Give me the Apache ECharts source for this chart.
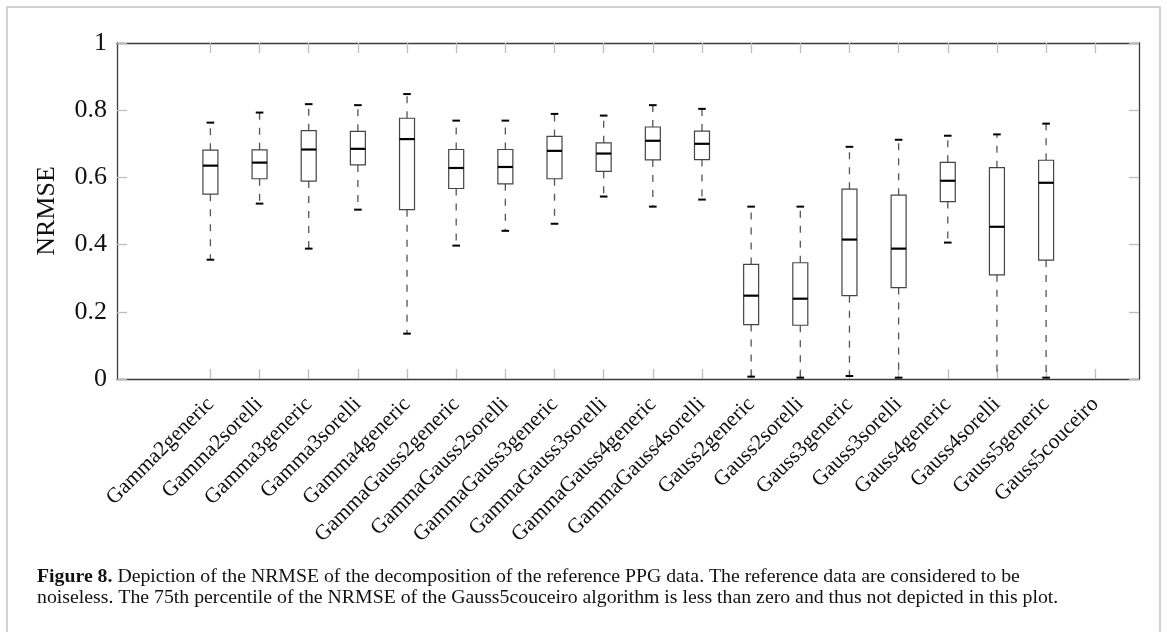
<!DOCTYPE html>
<html>
<head>
<meta charset="utf-8">
<script src="https://cdn.jsdelivr.net/npm/echarts@6/dist/echarts.min.js"></script>
<style>
  html, body { margin: 0; padding: 0; background: #fff; }
  #chart { width: 1170px; height: 632px; }
</style>
</head>
<body>
<div id="chart"></div>
<script>
// categories along the x axis
var categories = [
  'Gamma2generic', 'Gamma2sorelli', 'Gamma3generic', 'Gamma3sorelli', 'Gamma4generic',
  'GammaGauss2generic', 'GammaGauss2sorelli', 'GammaGauss3generic', 'GammaGauss3sorelli',
  'GammaGauss4generic', 'GammaGauss4sorelli', 'Gauss2generic', 'Gauss2sorelli',
  'Gauss3generic', 'Gauss3sorelli', 'Gauss4generic', 'Gauss4sorelli', 'Gauss5generic',
  'Gauss5couceiro'
];
// box statistics (null = not depicted)
var whiskerLow  = [0.355, 0.522, 0.388, 0.504, 0.135, 0.397, 0.441, 0.462, 0.543, 0.513, 0.534, 0.007, 0.004, 0.009, 0.004, 0.406, -0.02, 0.004, null];
var quart1      = [0.550, 0.596, 0.589, 0.637, 0.504, 0.567, 0.581, 0.596, 0.618, 0.652, 0.653, 0.162, 0.160, 0.248, 0.272, 0.528, 0.310, 0.354, null];
var medians     = [0.635, 0.644, 0.683, 0.685, 0.714, 0.628, 0.631, 0.679, 0.671, 0.709, 0.700, 0.248, 0.239, 0.415, 0.388, 0.590, 0.453, 0.584, null];
var quart3      = [0.681, 0.682, 0.739, 0.737, 0.776, 0.683, 0.683, 0.722, 0.703, 0.750, 0.738, 0.341, 0.346, 0.565, 0.547, 0.645, 0.629, 0.651, null];
var whiskerHigh = [0.763, 0.793, 0.818, 0.815, 0.848, 0.769, 0.769, 0.789, 0.784, 0.815, 0.804, 0.513, 0.513, 0.691, 0.712, 0.724, 0.728, 0.760, null];
var yTicks = [0, 0.2, 0.4, 0.6, 0.8, 1];

var positions = categories.map(function (c, i) { return i; });

var boxData = [];
for (var i = 0; i < categories.length; i++) {
  if (medians[i] == null) continue;
  boxData.push([i, whiskerLow[i], quart1[i], medians[i], quart3[i], whiskerHigh[i]]);
}

var serif = '"Liberation Serif", "DejaVu Serif", serif';
var tickGray = '#bdbdbd';
var frameColor = '#3a3a3a';

function renderBox(params, api) {
  var x = api.value(0);
  var pLo = api.coord([x, api.value(1)]);
  var pQ1 = api.coord([x, api.value(2)]);
  var pMed = api.coord([x, api.value(3)]);
  var pQ3 = api.coord([x, api.value(4)]);
  var pHi = api.coord([x, api.value(5)]);
  var hb = 7.5, hc = 3.8;
  var dash = { stroke: '#555', lineWidth: 1.3, lineDash: [7, 8] };
  var cap = { stroke: '#000', lineWidth: 2 };
  return {
    type: 'group',
    children: [
      { type: 'line', shape: { x1: pLo[0], y1: pQ1[1], x2: pLo[0], y2: pLo[1] }, style: dash },
      { type: 'line', shape: { x1: pHi[0], y1: pQ3[1], x2: pHi[0], y2: pHi[1] }, style: dash },
      { type: 'line', shape: { x1: pLo[0] - hc, y1: pLo[1], x2: pLo[0] + hc, y2: pLo[1] }, style: cap },
      { type: 'line', shape: { x1: pHi[0] - hc, y1: pHi[1], x2: pHi[0] + hc, y2: pHi[1] }, style: cap },
      { type: 'rect', shape: { x: pQ3[0] - hb, y: pQ3[1], width: 2 * hb, height: pQ1[1] - pQ3[1] },
        style: { fill: '#fff', stroke: '#444', lineWidth: 1.2 } },
      { type: 'line', shape: { x1: pMed[0] - hb, y1: pMed[1], x2: pMed[0] + hb, y2: pMed[1] },
        style: { stroke: '#000', lineWidth: 2.2 } }
    ]
  };
}

var chart = echarts.init(document.getElementById('chart'));
var option = {
  animation: false,
  backgroundColor: '#fff',
  title: {
    left: 32,
    top: 561,
    text: '{b|Figure 8.} Depiction of the NRMSE of the decomposition of the reference PPG data. The reference data are considered to be\nnoiseless. The 75th percentile of the NRMSE of the Gauss5couceiro algorithm is less than zero and thus not depicted in this plot.',
    textStyle: {
      fontFamily: serif,
      fontSize: 19.8,
      fontWeight: 'normal',
      color: '#111',
      lineHeight: 21,
      rich: {
        b: { fontFamily: serif, fontSize: 19.8, fontWeight: 'bold', color: '#111', lineHeight: 21 }
      }
    }
  },
  graphic: [{
    type: 'rect',
    shape: { x: 7, y: 7, width: 1153, height: 640 },
    style: { fill: 'none', stroke: '#c4c4c4', lineWidth: 1.5 },
    silent: true
  }],
  grid: { left: 117, right: 31, top: 43, bottom: 253 },
  xAxis: [{
    type: 'value',
    position: 'bottom',
    min: -1.9,
    max: 18.89,
    splitLine: { show: false },
    axisLine: { show: true, onZero: false, lineStyle: { color: frameColor, width: 1.3 } },
    axisTick: { show: true, inside: true, length: 10, customValues: positions, lineStyle: { color: tickGray, width: 1.3 } },
    axisLabel: {
      customValues: positions,
      rotate: 45,
      margin: 22,
      fontFamily: serif,
      fontSize: 21.5,
      color: '#111',
      formatter: function (v) { return categories[Math.round(v)] || ''; }
    }
  }, {
    type: 'value',
    position: 'top',
    min: -1.9,
    max: 18.89,
    splitLine: { show: false },
    axisLine: { show: true, onZero: false, lineStyle: { color: frameColor, width: 1.3 } },
    axisTick: { show: true, inside: true, length: 10, customValues: positions, lineStyle: { color: tickGray, width: 1.3 } },
    axisLabel: { show: false }
  }],
  yAxis: [{
    type: 'value',
    position: 'left',
    min: 0,
    max: 1,
    interval: 0.2,
    name: 'NRMSE',
    nameLocation: 'middle',
    nameRotate: 90,
    nameGap: 57,
    nameTextStyle: { fontFamily: serif, fontSize: 26, color: '#111' },
    splitLine: { show: false },
    axisLine: { show: true, onZero: false, lineStyle: { color: frameColor, width: 1.3 } },
    axisTick: { show: true, inside: true, length: 10, lineStyle: { color: tickGray, width: 1.3 } },
    axisLabel: {
      margin: 10,
      fontFamily: serif,
      fontSize: 26,
      color: '#111',
      customValues: yTicks,
      formatter: function (v) { return String(Math.round(v * 10) / 10); }
    }
  }, {
    type: 'value',
    position: 'right',
    min: 0,
    max: 1,
    interval: 0.2,
    splitLine: { show: false },
    axisLine: { show: true, onZero: false, lineStyle: { color: frameColor, width: 1.3 } },
    axisTick: { show: true, inside: true, length: 10, lineStyle: { color: tickGray, width: 1.3 } },
    axisLabel: { show: false }
  }],
  series: [{
    type: 'custom',
    name: 'NRMSE',
    xAxisIndex: 0,
    yAxisIndex: 0,
    clip: true,
    renderItem: renderBox,
    encode: { x: 0, y: [1, 2, 3, 4, 5] },
    data: boxData
  }]
};
chart.setOption(option);
</script>
</body>
</html>
